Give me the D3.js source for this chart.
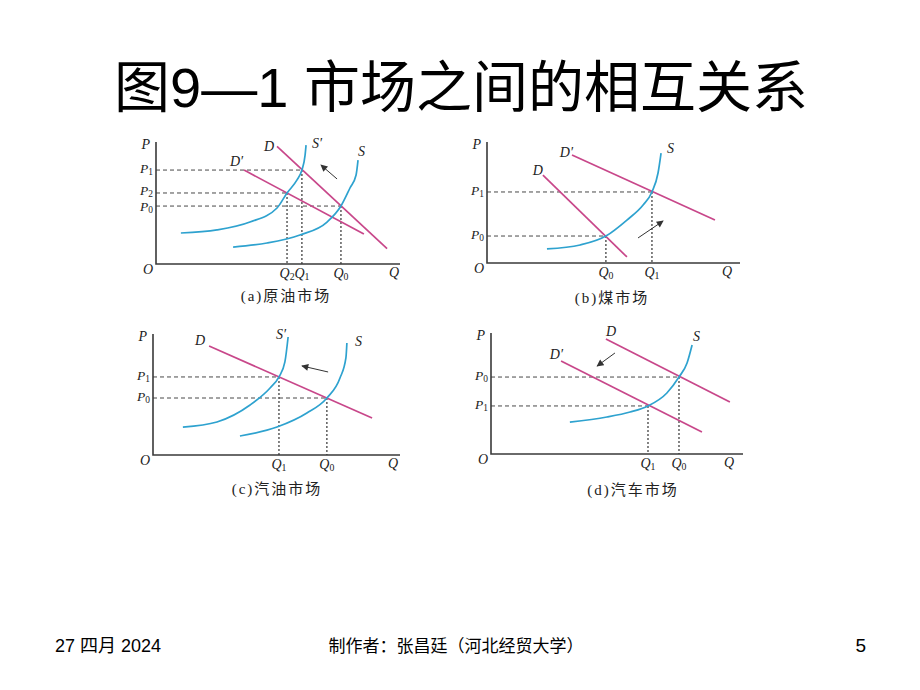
<!DOCTYPE html>
<html><head><meta charset="utf-8">
<script src="https://cdn.jsdelivr.net/npm/d3@7"></script>
<style>
html,body{margin:0;padding:0;background:#fff;}
svg{display:block;}
</style></head>
<body>
<script>
// ---------- text ----------
const titleText = "图9—1 市场之间的相互关系";
const footerDate = "27 四月 2024";
const footerAuthor = "制作者：张昌廷（河北经贸大学）";
const footerPage = "5";
const captions = ["(a)原油市场", "(b)煤市场", "(c)汽油市场", "(d)汽车市场"];

// ---------- panel (a) 原油市场 : values in Q,P units (0-100) ----------
const aCurveD  = [[49.6, 96.5], [94.7, 12.6]];
const aCurveD2 = [[36.1, 77.0], [85.2, 24.6]];
const aCurveS  = [[31.6, 13.9], [45.5, 17.2], [59.0, 23.8], [70.1, 34.4], [75.8, 47.5], [79.5, 62.3], [82.0, 73.0], [82.8, 85.2]];
const aCurveS2 = [[10.2, 25.4], [25.0, 27.9], [38.5, 34.4], [49.6, 45.9], [53.7, 58.2], [57.8, 68.9], [59.8, 77.0], [61.1, 89.3], [61.5, 97.5]];
const aPriceTicks = [["1", 77.0], ["2", 58.2], ["0", 47.5]];
const aQuantityTicks = [["2", 53.7], ["1", 59.8], ["0", 75.8]];
const aEquilibria = [["1", "1"], ["2", "2"], ["0", "0"]];
const aShiftArrow = [[74.2, 69.7], [67.6, 81.1]];

// ---------- panel (b) 煤市场 ----------
const bCurveD  = [[22.1, 72.7], [55.3, 5.0]];
const bCurveD2 = [[33.6, 89.3], [90.1, 35.5]];
const bCurveS  = [[23.7, 11.6], [36.8, 14.9], [47.0, 22.3], [55.3, 35.5], [61.7, 47.9], [65.2, 58.7], [67.6, 74.4], [68.8, 90.9]];
const bPriceTicks = [["1", 58.7], ["0", 22.3]];
const bQuantityTicks = [["0", 47.0], ["1", 65.2]];
const bEquilibria = [["0", "0"], ["1", "1"]];
const bShiftArrow = [[59.7, 20.7], [69.6, 34.7]];

// ---------- panel (c) 汽油市场 ----------
const cCurveD  = [[22.7, 90.1], [88.7, 30.6]];
const cCurveS  = [[35.2, 15.7], [50.2, 23.1], [62.3, 34.7], [70.4, 47.1], [75.7, 63.6], [78.1, 80.2], [78.5, 92.6]];
const cCurveS2 = [[12.1, 23.1], [25.9, 27.3], [39.3, 41.3], [47.4, 55.4], [51.0, 64.5], [53.4, 76.9], [54.7, 97.5]];
const cPriceTicks = [["1", 64.5], ["0", 47.1]];
const cQuantityTicks = [["1", 51.0], ["0", 70.4]];
const cEquilibria = [["1", "1"], ["0", "0"]];
const cShiftArrow = [[70.9, 68.6], [60.3, 73.6]];

// ---------- panel (d) 汽车市场 ----------
const dCurveD  = [[45.6, 95.0], [94.8, 43.0]];
const dCurveD2 = [[27.8, 76.9], [83.7, 18.2]];
const dCurveS  = [[31.3, 26.4], [46.0, 30.6], [55.2, 34.7], [62.3, 39.7], [69.8, 50.4], [74.6, 63.6], [77.8, 75.2], [79.8, 90.1]];
const dPriceTicks = [["0", 63.6], ["1", 39.7]];
const dQuantityTicks = [["1", 62.3], ["0", 74.6]];
const dEquilibria = [["0", "0"], ["1", "1"]];
const dShiftArrow = [[49.2, 83.5], [42.1, 72.7]];

// ---------- layout ----------
const W = 920, H = 690;
const DEMAND = "#c8478a", SUPPLY = "#2ea2cf", INK = "#333";
const SERIF = "'Liberation Serif','Times New Roman',serif";
const CJK = "'Liberation Serif','Noto Sans CJK SC',serif";

const panels = [
  { x0: 156, y0: 264, w: 244, h: 122, capX: 286, capY: 301, qdx: -6, caption: captions[0],
    price: aPriceTicks, qty: aQuantityTicks, eq: aEquilibria, arrow: aShiftArrow,
    curves: [
      { data: aCurveD2, name: "D′", kind: "D", at: 0, anchor: "end", dx: -1, dy: -4 },
      { data: aCurveD,  name: "D",  kind: "D", at: 0, anchor: "end", dx: -3, dy: 5 },
      { data: aCurveS2, name: "S′", kind: "S", at: 1, anchor: "start", dx: 6, dy: 3 },
      { data: aCurveS,  name: "S",  kind: "S", at: 1, anchor: "start", dx: 0, dy: -4 }
    ] },
  { x0: 487, y0: 263, w: 253, h: 121, capX: 612, capY: 303, qdx: -13, caption: captions[1],
    price: bPriceTicks, qty: bQuantityTicks, eq: bEquilibria, arrow: bShiftArrow,
    curves: [
      { data: bCurveD2, name: "D′", kind: "D", at: 0, anchor: "end", dx: 1, dy: 2 },
      { data: bCurveD,  name: "D",  kind: "D", at: 0, anchor: "end", dx: 0, dy: 0 },
      { data: bCurveS,  name: "S",  kind: "S", at: 1, anchor: "start", dx: 6, dy: 0 }
    ] },
  { x0: 153, y0: 455, w: 247, h: 121, capX: 277, capY: 494, qdx: -7, caption: captions[2],
    price: cPriceTicks, qty: cQuantityTicks, eq: cEquilibria, arrow: cShiftArrow,
    curves: [
      { data: cCurveD,  name: "D",  kind: "D", at: 0, anchor: "end", dx: -4, dy: -1 },
      { data: cCurveS2, name: "S′", kind: "S", at: 1, anchor: "end", dx: -2, dy: 2 },
      { data: cCurveS,  name: "S",  kind: "S", at: 1, anchor: "start", dx: 8, dy: 3 }
    ] },
  { x0: 491, y0: 454, w: 252, h: 121, capX: 633, capY: 495, qdx: -14, caption: captions[3],
    price: dPriceTicks, qty: dQuantityTicks, eq: dEquilibria, arrow: dShiftArrow,
    curves: [
      { data: dCurveD,  name: "D",  kind: "D", at: 0, anchor: "start", dx: 0, dy: -3 },
      { data: dCurveD2, name: "D′", kind: "D", at: 0, anchor: "end", dx: 2, dy: -2 },
      { data: dCurveS,  name: "S",  kind: "S", at: 1, anchor: "start", dx: 1, dy: -4 }
    ] }
];

const svg = d3.select("body").append("svg").attr("width", W).attr("height", H)
  .style("background", "#fff");

svg.append("defs").append("marker")
  .attr("id", "arrowhead").attr("viewBox", "0 0 10 10")
  .attr("refX", 9).attr("refY", 5)
  .attr("markerWidth", 8).attr("markerHeight", 7)
  .attr("markerUnits", "userSpaceOnUse").attr("orient", "auto")
  .append("path").attr("d", "M0,0 L10,5 L0,10 Z").attr("fill", INK);

// title
svg.append("text").attr("x", 461).attr("y", 107).attr("text-anchor", "middle")
  .attr("font-family", "'Liberation Sans',Arial,'Noto Sans CJK SC',sans-serif")
  .attr("font-size", 56).attr("fill", "#000").text(titleText);

// footer
const footFont = "'Liberation Sans',Arial,'Noto Sans CJK SC',sans-serif";
svg.append("text").attr("x", 55).attr("y", 652).attr("font-family", footFont)
  .attr("font-size", 18).attr("fill", "#000").text(footerDate);
svg.append("text").attr("x", 456).attr("y", 652).attr("text-anchor", "middle")
  .attr("font-family", footFont).attr("font-size", 17).attr("fill", "#000").text(footerAuthor);
svg.append("text").attr("x", 866).attr("y", 652).attr("text-anchor", "end")
  .attr("font-family", footFont).attr("font-size", 19).attr("fill", "#000").text(footerPage);

function subLabel(g, x, y, main, sub, anchor, size) {
  const fs = size || 14;
  const t = g.append("text").attr("x", x).attr("y", y).attr("text-anchor", anchor)
    .attr("font-family", SERIF).attr("font-size", fs).attr("fill", "#222");
  t.append("tspan").attr("font-style", "italic").text(main);
  if (sub !== undefined) t.append("tspan").attr("font-size", fs * 0.7).attr("dy", 2).text(sub);
  return t;
}

panels.forEach(p => {
  const x = d3.scaleLinear().domain([0, 100]).range([p.x0, p.x0 + p.w]);
  const y = d3.scaleLinear().domain([0, 100]).range([p.y0, p.y0 - p.h]);
  const g = svg.append("g");
  const priceMap = new Map(p.price), qtyMap = new Map(p.qty);

  // dashed guide lines
  p.eq.forEach(([qk, pk]) => {
    const qv = qtyMap.get(qk), pv = priceMap.get(pk);
    g.append("line").attr("x1", x(0)).attr("x2", x(qv)).attr("y1", y(pv)).attr("y2", y(pv))
      .attr("stroke", INK).attr("stroke-width", 0.9).attr("stroke-dasharray", "4,3");
    g.append("line").attr("x1", x(qv)).attr("x2", x(qv)).attr("y1", y(pv)).attr("y2", y(0))
      .attr("stroke", INK).attr("stroke-width", 1.2).attr("stroke-dasharray", "2,2");
  });

  // axes
  g.append("path")
    .attr("d", `M${x(0)},${y(100)} L${x(0)},${y(0)} L${x(100)},${y(0)}`)
    .attr("fill", "none").attr("stroke", "#3a3a3a").attr("stroke-width", 1.6);

  // curves
  const line = d3.line().x(d => x(d[0])).y(d => y(d[1])).curve(d3.curveMonotoneX);
  p.curves.forEach(c => {
    g.append("path").attr("d", line(c.data)).attr("fill", "none")
      .attr("stroke", c.kind === "D" ? DEMAND : SUPPLY).attr("stroke-width", 1.7);
    const pt = c.at === 0 ? c.data[0] : c.data[c.data.length - 1];
    g.append("text").attr("x", x(pt[0]) + c.dx).attr("y", y(pt[1]) + c.dy)
      .attr("text-anchor", c.anchor).attr("font-family", SERIF).attr("font-style", "italic")
      .attr("font-size", 14).attr("fill", "#222").text(c.name);
  });

  // shift arrow
  g.append("line").attr("x1", x(p.arrow[0][0])).attr("y1", y(p.arrow[0][1]))
    .attr("x2", x(p.arrow[1][0])).attr("y2", y(p.arrow[1][1]))
    .attr("stroke", INK).attr("stroke-width", 1).attr("marker-end", "url(#arrowhead)");

  // price tick labels: spread apart slightly when two levels are very close
  const priceLab = p.price.map(([k, v]) => ({ k, py: y(v) + 3 })).sort((a, b) => a.py - b.py);
  for (let i = 1; i < priceLab.length; i++) {
    const gap = priceLab[i].py - priceLab[i - 1].py;
    if (gap < 16) { const s = (16 - gap) / 2; priceLab[i - 1].py -= s; priceLab[i].py += s; }
  }
  priceLab.forEach(l => subLabel(g, x(0) - 3, l.py, "P", l.k, "end", 13.5));
  p.qty.forEach(([k, v]) => subLabel(g, x(v), y(0) + 14, "Q", k, "middle"));

  // axis names
  subLabel(g, x(0) - 6, y(100) + 7, "P", undefined, "end");
  subLabel(g, x(0) - 3, y(0) + 10, "O", undefined, "end");
  subLabel(g, x(100) + p.qdx, y(0) + 13, "Q", undefined, "middle");

  // caption
  g.append("text").attr("x", p.capX).attr("y", p.capY).attr("text-anchor", "middle")
    .attr("font-family", CJK).attr("font-size", 15).attr("letter-spacing", 2)
    .attr("fill", "#222").text(p.caption);
});
</script>
</body></html>
